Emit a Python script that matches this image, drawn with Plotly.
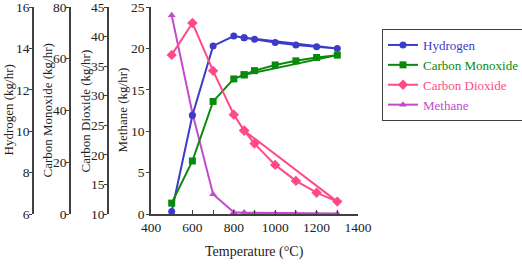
import plotly.graph_objects as go

# Temperatures (°C); the trailing 850 closes the path back as in the reference
temperature = [500, 600, 700, 800, 850, 900, 1000, 1100, 1200, 1300, 850]
hydrogen = [6.12, 10.76, 14.12, 14.6, 14.52, 14.44, 14.28, 14.16, 14.08, 14.0, 14.52]
carbon_monoxide = [4.2, 20.5, 43.5, 52.2, 53.8, 55.4, 57.6, 59.2, 60.5, 61.4, 53.8]
carbon_dioxide = [36.9, 42.3, 34.2, 26.8, 24.1, 21.9, 18.3, 15.6, 13.6, 12.1, 24.1]
methane = [24.0, 12.2, 2.4, 0.2, 0.15, 0.05, 0.05, 0.05, 0.05, 0.05, 0.15]

W, H = 522, 264
L_PLOT, R_PLOT = 151, 358
T_PLOT, B_PLOT = 7, 214
FONT = "Liberation Serif"
AX = "#404040"
TXT = "#222222"

fig = go.Figure()
series = [
    ("Hydrogen", hydrogen, "#3c3cc8", "circle", 7, "y2"),
    ("Carbon Monoxide", carbon_monoxide, "#0a8a0a", "square", 7, "y3"),
    ("Carbon Dioxide", carbon_dioxide, "#ff4a86", "diamond", 8, "y4"),
    ("Methane", methane, "#c04ccc", "triangle-up", 7, "y"),
]
for name, vals, col, sym, sz, ax in series:
    fig.add_trace(go.Scatter(
        x=temperature, y=vals, yaxis=ax, mode="lines+markers",
        name=f'<span style="color:{col}">{name}</span>',
        line=dict(color=col, width=2), marker=dict(symbol=sym, size=sz, color=col),
    ))

tickfont = dict(family=FONT, size=13.5, color=TXT)
common = dict(showline=True, linecolor=AX, linewidth=1.5, ticks="outside", ticklen=3,
              tickcolor=AX, tickwidth=1.2, tickfont=tickfont, showgrid=False, zeroline=False,
              automargin=False, ticklabeloverflow="allow")

fig.update_layout(
    width=W, height=H,
    margin=dict(l=0, r=0, t=T_PLOT, b=H - B_PLOT, autoexpand=False),
    paper_bgcolor="white", plot_bgcolor="white",
    xaxis=dict(domain=[L_PLOT / W, R_PLOT / W], range=[400, 1400], dtick=200, tickangle=0,
               showline=True, linecolor=AX, automargin=False, ticklabeloverflow="allow",
               linewidth=1.5, ticks="inside", ticklen=4, tickcolor=AX, tickfont=tickfont,
               showgrid=False, zeroline=False,
               minor=dict(dtick=100, ticks="inside", ticklen=4, tickcolor=AX)),
    yaxis=dict(range=[0, 25], dtick=5, anchor="x", ticklabelstandoff=-1, **common),
    yaxis2=dict(range=[6, 16], dtick=2, overlaying="y", anchor="free", side="left",
                position=33 / W, ticklabelstandoff=-3, **common),
    yaxis3=dict(range=[0, 80], dtick=20, overlaying="y", anchor="free", side="left",
                position=70 / W, ticklabelstandoff=-3, **common),
    yaxis4=dict(range=[10, 45], dtick=5, overlaying="y", anchor="free", side="left",
                position=108 / W, ticklabelstandoff=-3, **common),
    legend=dict(x=382 / W, y=(B_PLOT - 29) / (B_PLOT - T_PLOT),
                xanchor="left", yanchor="top", bordercolor=AX, borderwidth=1,
                font=dict(family=FONT, size=13), itemwidth=30),
    showlegend=True,
)

titles = [("Hydrogen (kg/hr)", 8), ("Carbon Monoxide (kg/hr)", 47),
          ("Carbon Dioxide (kg/hr)", 85), ("Methane (kg/hr)", 122)]
for text, px in titles:
    fig.add_annotation(text=text, textangle=-90, xref="paper", yref="paper",
                       x=px / W, y=0.5, xanchor="center", yanchor="middle", showarrow=False,
                       font=dict(family=FONT, size=13, color=TXT))
fig.add_annotation(text="Temperature (°C)", xref="paper", yref="paper",
                   x=(L_PLOT + R_PLOT) / 2 / W, y=-(252 - B_PLOT) / (B_PLOT - T_PLOT),
                   xanchor="center", yanchor="middle", showarrow=False,
                   font=dict(family=FONT, size=14, color=TXT))
fig.write_html("out.html")
